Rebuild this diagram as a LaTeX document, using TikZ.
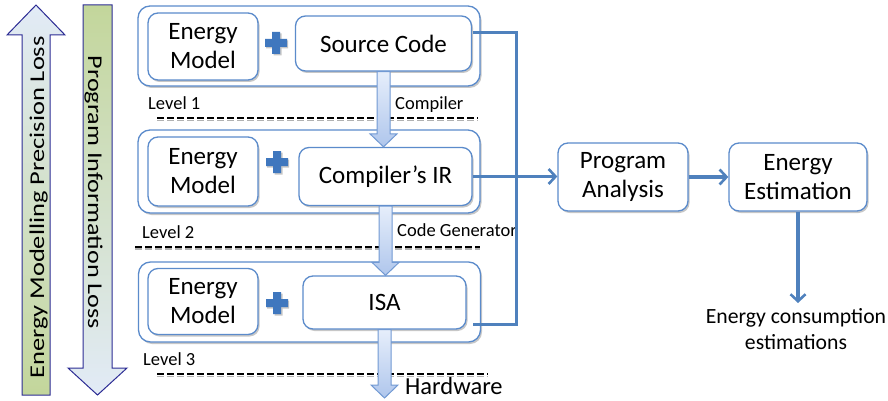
\documentclass[tikz,border=0pt]{standalone}
\usepackage{fontspec}
\setmainfont{Carlito}
\usetikzlibrary{arrows.meta,calc,shadows}
\definecolor{boxblue}{HTML}{5B8BCB}
\definecolor{lineblue}{HTML}{4F81BD}
\definecolor{plusblue}{HTML}{3F77BE}
\definecolor{navy}{HTML}{2C2C94}
\definecolor{lgreen}{HTML}{C3D69B}
\definecolor{lblue}{HTML}{E2EBF7}
\definecolor{arrtop}{HTML}{E6EEFB}
\definecolor{arrbot}{HTML}{AFC6EC}
\definecolor{arredge}{HTML}{7199D3}
\newcommand\blockarrow[2]{%
  \draw[barrow] let \p1=(#1), \p2=(#2) in
    (\x1-6.5pt,\y1) -- (\x1-6.5pt,\y2+13pt) -- (\x1-13.5pt,\y2+13pt) -- (\x1,\y2)
    -- (\x1+13.5pt,\y2+13pt) -- (\x1+6.5pt,\y2+13pt) -- (\x1+6.5pt,\y1) -- cycle;}
\newcommand\plussign[1]{%
  \fill[black!22] ($(#1)+(-10,-2.5)$) rectangle ($(#1)+(12,5.5)$) ($(#1)+(-2.5,-9.5)$) rectangle ($(#1)+(5.5,12.5)$);
  \fill[plusblue] ($(#1)+(-11,-4)$) rectangle ($(#1)+(11,4)$) ($(#1)+(-4,-11)$) rectangle ($(#1)+(4,11)$);}
\begin{document}
\begin{tikzpicture}[x=1pt,y=-1pt,
  shad/.style={drop shadow={shadow xshift=1.5pt, shadow yshift=-2pt, fill=black, opacity=0.22}},
  outerbox/.style={draw=boxblue, line width=1.3pt, rounded corners=12pt, fill=white,
    minimum width=342pt, inner sep=0pt, shad},
  innerbox/.style={draw=boxblue, line width=1.3pt, rounded corners=10pt, fill=white,
    inner sep=0pt, align=center, font=\fontsize{25}{29}\selectfont, shad},
  lvl/.style={anchor=base west, inner sep=0pt, font=\fontsize{18.5}{21}\selectfont},
  dashline/.style={black, line width=2pt, dash pattern=on 7pt off 3pt},
  dashshadow/.style={black!30, line width=1.6pt, dash pattern=on 7pt off 3pt},
  barrow/.style={draw=arredge, line width=1pt, top color=arrtop, bottom color=arrbot},
  conn/.style={draw=lineblue, line width=3.2pt},
  tip/.style={-{Straight Barb[length=7pt,width=15pt,line width=2.6pt]}},
  bigtext/.style={inner sep=0pt, anchor=base, font=\fontsize{21}{24}\selectfont}]
\useasboundingbox (0,0) rectangle (888,401);

% ---- big side arrows
\draw[navy, line width=1pt, top color=lblue, bottom color=lgreen]
  (22,395) -- (22,35) -- (7,35) -- (36,5) -- (65,35) -- (50,35) -- (50,395) -- cycle;
\node[bigtext, rotate=90] (precloss) at (44,207.5) {\scalebox{1.26}[1]{Energy Modelling Precision Loss}};
\draw[navy, line width=1pt, top color=lgreen, bottom color=lblue]
  (83,5) -- (112,5) -- (112,368) -- (127,368) -- (97.5,395) -- (68,368) -- (83,368) -- cycle;
\node[bigtext, rotate=-90] (infoloss) at (88,192.5) {\scalebox{1.245}[1]{Program Information Loss}};

% ---- level boxes
\node[outerbox, minimum height=80pt] (L1) at (309,46) {};
\node[outerbox, minimum height=83pt] (L2) at (309,171.5) {};
\node[outerbox, minimum height=80pt] (L3) at (309.5,302) {};

\node[innerbox, minimum width=110pt, minimum height=67pt] (EM1) at (203,46.5) {Energy\\Model};
\node[innerbox, minimum width=110pt, minimum height=69pt] (EM2) at (203,171.5) {Energy\\Model};
\node[innerbox, minimum width=110pt, minimum height=66pt] (EM3) at (203,301.5) {Energy\\Model};

\node[innerbox, minimum width=176pt, minimum height=55pt] (SC) at (383.5,43.5) {Source Code};
\node[innerbox, minimum width=173pt, minimum height=58pt] (CIR) at (385.5,176.5) {Compiler’s IR};
\node[innerbox, minimum width=163pt, minimum height=53pt] (ISA) at (384.5,302.5) {ISA};

\coordinate (p1) at (276,43);
\coordinate (p2) at (277,162);
\coordinate (p3) at (277,303);
\plussign{p1}
\plussign{p2}
\plussign{p3}

% ---- level labels and dashed separators
\node[lvl] (lv1) at (148,110) {Level 1};
\node[lvl] (lv2) at (142,238) {Level 2};
\node[lvl] (lv3) at (143,365) {Level 3};
\node[lvl] (comp) at (395,110) {Compiler};
\node[lvl] (cgen) at (397,236) {Code Generator};
\node[lvl, font=\fontsize{24.5}{28}\selectfont] (hwl) at (405,394) {Hardware};

\coordinate (d1a) at (157,118);   \coordinate (d1b) at (478,118);
\coordinate (d2a) at (135,246.5); \coordinate (d2b) at (480,246.5);
\coordinate (d3a) at (157,374);   \coordinate (d3b) at (488,374);
\foreach \a/\b in {d1a/d1b,d2a/d2b,d3a/d3b}{
  \draw[dashshadow] ($(\a)+(0,2.6)$) -- ($(\b)+(0,2.6)$);
  \draw[dashline] (\a) -- (\b);
}

% ---- block arrows between levels
\coordinate (hw) at (386,398);
\blockarrow{SC.south}{CIR.north}
\blockarrow{CIR.south}{ISA.north}
\blockarrow{ISA.south}{hw}

% ---- right-hand flow
\node[innerbox, minimum width=130pt, minimum height=68pt] (PA) at (623,177) {Program\\Analysis};
\node[innerbox, minimum width=138pt, minimum height=68pt] (EE) at (798,177) {Energy\\Estimation};
\node[inner sep=0pt, outer sep=5pt, anchor=north, align=center, font=\fontsize{21.7}{26}\selectfont]
  (ECE) at (796,303) {Energy consumption\\estimations};

\coordinate (scout) at ($(SC.north east)+(0.5,17.5)$);
\coordinate (isaout) at ($(ISA.south east)+(6,-5)$);
\coordinate (busx) at (516.5,0);
\draw[conn, line join=miter] (scout) -- (scout -| busx) -- (isaout -| busx) -- (isaout);
\draw[conn, tip] (CIR.east) -- (CIR.east -| PA.west);
\draw[conn, tip] (PA.east) -- (EE.west);
\draw[conn, tip] (EE.south) -- (EE.south |- ECE.north);
\end{tikzpicture}
\end{document}
